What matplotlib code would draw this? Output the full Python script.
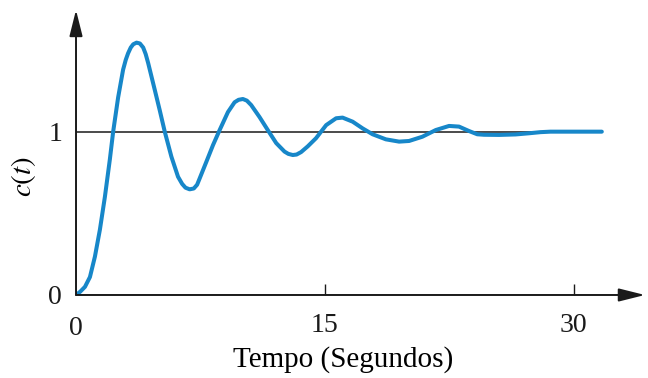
#!/usr/bin/env python3
"""
Step response c(t) with damped oscillation, textbook style axes
"""
import matplotlib
matplotlib.use("Agg")
import matplotlib.pyplot as plt

# values
t_vals = [0.0, 0.25, 0.54, 0.84, 1.14, 1.44, 1.74, 2.04, 2.24, 2.54, 2.84,
          3.0, 3.14, 3.3, 3.45, 3.65, 3.85, 4.05, 4.2, 4.35, 4.75, 5.05, 5.35,
          5.75, 6.15, 6.4, 6.6, 6.85, 7.1, 7.3, 7.46, 7.86, 8.26, 8.66, 9.16,
          9.56, 9.8, 10.06, 10.3, 10.56, 11.06, 11.56, 12.07, 12.57, 12.8,
          13.07, 13.3, 13.57, 13.97, 14.47, 15.08, 15.68, 16.07, 16.68, 17.28,
          17.88, 18.68, 19.48, 20.08, 20.88, 21.69, 22.49, 23.09, 23.69, 24.19,
          24.6, 25.5, 26.5, 27.3, 28.0, 28.6, 30.0, 31.7]
c_vals = [0.0, 0.02, 0.05, 0.11, 0.235, 0.40, 0.60, 0.83, 1.0, 1.21, 1.38,
          1.44, 1.48, 1.515, 1.535, 1.545, 1.54, 1.515, 1.475, 1.42, 1.255,
          1.13, 1.0, 0.847, 0.724, 0.68, 0.657, 0.647, 0.652, 0.675, 0.715,
          0.816, 0.918, 1.01, 1.12, 1.18, 1.195, 1.20, 1.19, 1.163, 1.09,
          1.01, 0.93, 0.878, 0.864, 0.857, 0.86, 0.875, 0.91, 0.96, 1.04,
          1.082, 1.086, 1.061, 1.02, 0.984, 0.953, 0.939, 0.943, 0.969, 1.01,
          1.035, 1.031, 1.004, 0.984, 0.981, 0.98, 0.983, 0.99, 0.997, 1.0,
          1.0, 1.0]
x_ticks = [15, 30]
y_ticks = [0, 1]
ref_level = 1.0

XMAX = 34.3
YMAX = 1.745
INK = "#1a1a1a"


def main():
    plt.rcParams["font.family"] = "Liberation Serif"
    plt.rcParams["mathtext.fontset"] = "stix"

    fig = plt.figure(figsize=(6.48, 3.78), dpi=100)
    ax = fig.add_axes([0.1173, 0.2196, 0.878, 0.754])
    ax.set_xlim(0, XMAX)
    ax.set_ylim(0, YMAX)
    for s in ax.spines.values():
        s.set_visible(False)

    # axes with arrow heads
    arrow = dict(arrowstyle="-|>,head_length=0.8,head_width=0.2",
                 color=INK, lw=1.4, mutation_scale=20, shrinkA=0, shrinkB=0)
    ax.annotate("", xy=(XMAX, 0), xytext=(0, 0), arrowprops=arrow,
                annotation_clip=False)
    ax.annotate("", xy=(0, YMAX), xytext=(0, 0), arrowprops=arrow,
                annotation_clip=False)

    ax.plot([0, t_vals[-1]], [ref_level, ref_level], color=INK, lw=1.1)
    ax.plot(t_vals, c_vals, color="#1787c9", lw=2.9,
            solid_capstyle="round", solid_joinstyle="round")

    ax.set_xticks(x_ticks)
    ax.set_yticks(y_ticks)
    ax.tick_params(axis="x", direction="in", length=8, width=1.0,
                   colors=INK, labelsize=20, pad=13)
    ax.tick_params(axis="y", length=0, labelsize=20, pad=10, colors=INK)
    ax.text(0, -0.13, "0", ha="center", va="top", fontsize=20, color=INK)
    ax.set_xlabel("Tempo (Segundos)", fontsize=21)
    ax.xaxis.set_label_coords(0.469, -0.18)
    ax.set_ylabel("$c(t)$", fontsize=21)
    ax.yaxis.set_label_coords(-0.066, 0.415)

    plt.savefig("out.png", dpi=100)


if __name__ == "__main__":
    main()
